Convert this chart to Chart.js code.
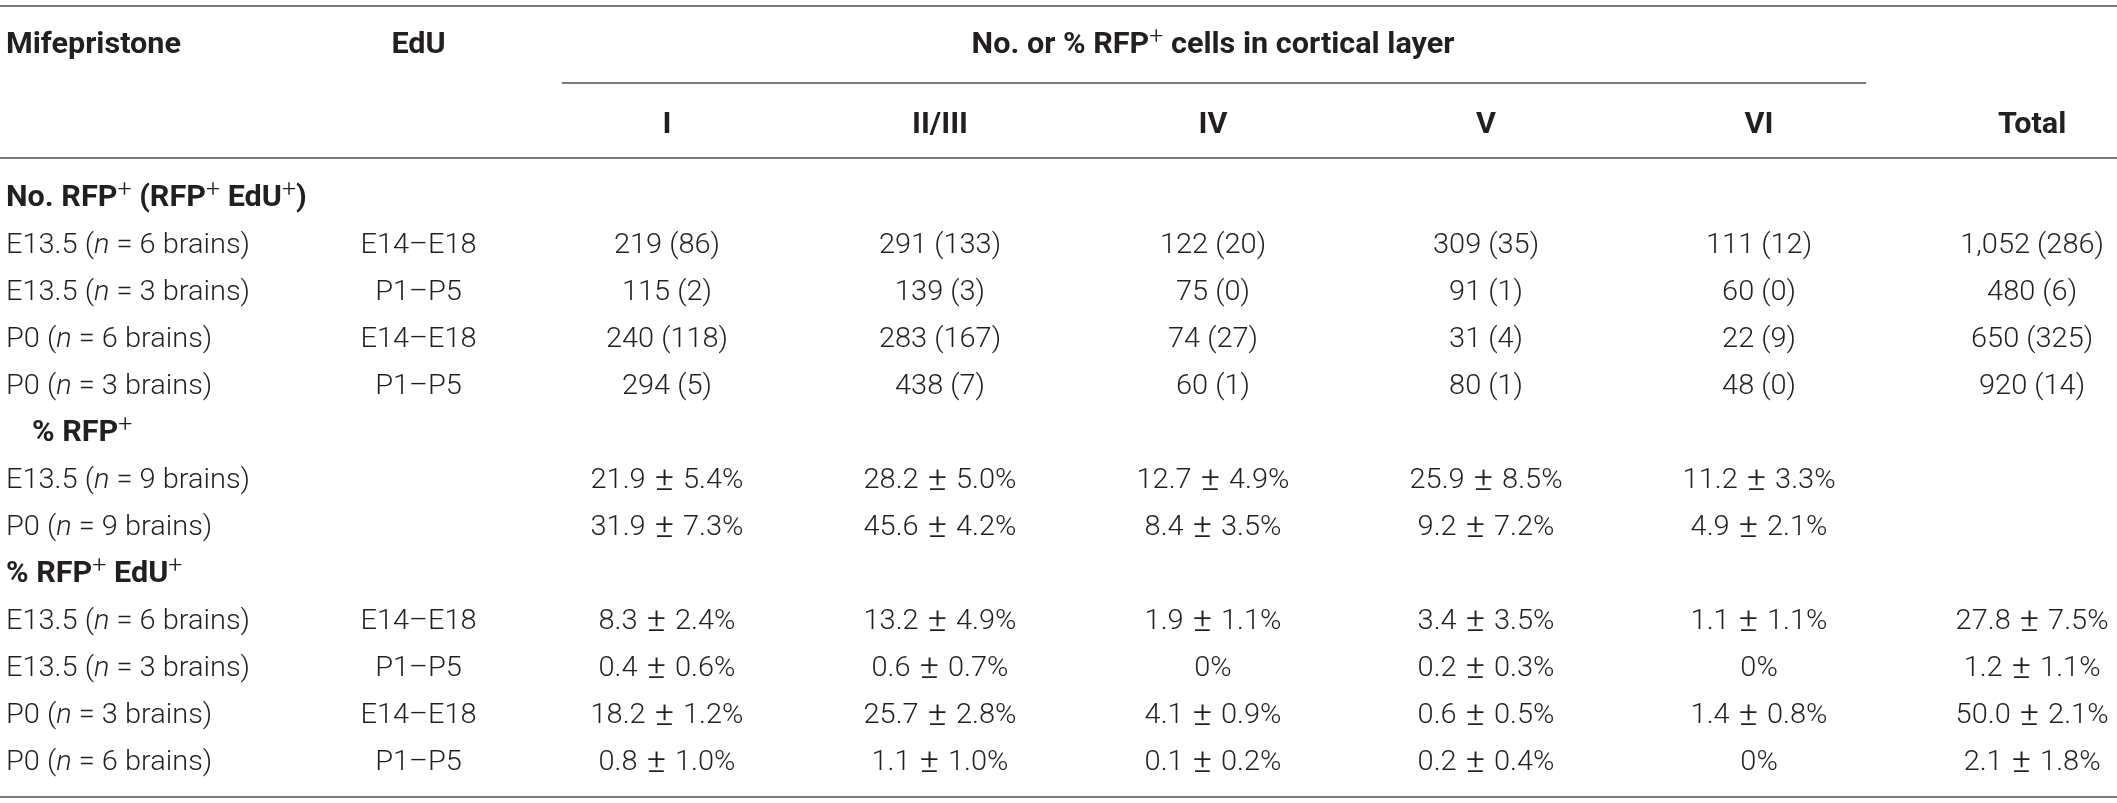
<!DOCTYPE html>
<html><head><meta charset="utf-8">
<script src="https://cdn.jsdelivr.net/npm/chart.js@4/dist/chart.umd.min.js"></script>
<style>html,body{margin:0;padding:0;background:#fff;overflow:hidden}#wrap{position:relative;width:2117px;height:803px}</style>
</head><body><div id="wrap"><canvas id="c"></canvas></div>
<script>
// ---------- DATA ----------
const headerLeft = "Mifepristone";
const headerEdu = "EdU";
const spannerTitle = "No. or % RFP^+ cells in cortical layer";
const columns = ["I", "II/III", "IV", "V", "VI", "Total"];

const countTitle = "No. RFP^+ (RFP^+ EdU^+)";
const countLabels = ["E13.5 (*n* = 6 brains)", "E13.5 (*n* = 3 brains)", "P0 (*n* = 6 brains)", "P0 (*n* = 3 brains)"];
const countEdu = ["E14–E18", "P1–P5", "E14–E18", "P1–P5"];
const countRFP = [
  [219, 291, 122, 309, 111, 1052],
  [115, 139, 75, 91, 60, 480],
  [240, 283, 74, 31, 22, 650],
  [294, 438, 60, 80, 48, 920]
];
const countRFPEdU = [
  [86, 133, 20, 35, 12, 286],
  [2, 3, 0, 1, 0, 6],
  [118, 167, 27, 4, 9, 325],
  [5, 7, 1, 1, 0, 14]
];

const pctTitle = "% RFP^+";
const pctLabels = ["E13.5 (*n* = 9 brains)", "P0 (*n* = 9 brains)"];
const pctMean = [
  [21.9, 28.2, 12.7, 25.9, 11.2, null],
  [31.9, 45.6, 8.4, 9.2, 4.9, null]
];
const pctSD = [
  [5.4, 5.0, 4.9, 8.5, 3.3, null],
  [7.3, 4.2, 3.5, 7.2, 2.1, null]
];

const eduTitle = "% RFP^+ EdU^+";
const eduLabels = ["E13.5 (*n* = 6 brains)", "E13.5 (*n* = 3 brains)", "P0 (*n* = 3 brains)", "P0 (*n* = 6 brains)"];
const eduEdu = ["E14–E18", "P1–P5", "E14–E18", "P1–P5"];
const eduMean = [
  [8.3, 13.2, 1.9, 3.4, 1.1, 27.8],
  [0.4, 0.6, 0, 0.2, 0, 1.2],
  [18.2, 25.7, 4.1, 0.6, 1.4, 50.0],
  [0.8, 1.1, 0.1, 0.2, 0, 2.1]
];
const eduSD = [
  [2.4, 4.9, 1.1, 3.5, 1.1, 7.5],
  [0.6, 0.7, null, 0.3, null, 1.1],
  [1.2, 2.8, 0.9, 0.5, 0.8, 2.1],
  [1.0, 1.0, 0.2, 0.4, null, 1.8]
];

// ---------- LAYOUT / STYLE ----------
const X_MIN = -0.443, X_MAX = 7.311;     // column units
const Y_MIN = -4.170, Y_MAX = 12.915;    // row units
const LABEL_X = -0.421, INDENT_X = -0.326, EDU_X = 1.09, FIRST_COL = 2;
const HEAD1_Y = -3.255, HEAD2_Y = -1.553;
const RULES = [
  {y: -4.04, x0: X_MIN, x1: X_MAX},
  {y: -2.40, x0: 1.615, x1: 6.392},
  {y: -0.81, x0: X_MIN, x1: X_MAX},
  {y: 12.79, x0: X_MIN, x1: X_MAX}
];
const TEXT_COLOR = "#231f20", RULE_COLOR = "#7a7a7a";
const LIGHT = {family: "Roboto", weight: 300, size: 27.2, sx: 1, pm: 0, pmSize: 1.25, supSize: 0.8, supW: 300};
const BOLD = {family: "Roboto", weight: 700, size: 29, sx: 1, pm: 0, pmSize: 1, supSize: 0.82, supW: 300};
// calibration samples (target rendered widths in px)
const FIT_LIGHT = ["E13.5 (*n* = 6 brains)", 244];
const FIT_BOLD = ["Mifepristone", 175];
const FIT_PM = ["21.9 ± 5.4%", 153];

// ---------- BUILD CELLS ----------
const fmtCount = (a, b) => a.toLocaleString("en-US") + " (" + b + ")";
const fmtPct = (m, s) => m === null ? null : (s === null ? m + "%" : m.toFixed(1) + " ± " + s.toFixed(1) + "%");

const cells = [];
function add(x, y, text, style, align) { if (text !== null) cells.push({x, y, text, style, align}); }

add(LABEL_X, HEAD1_Y, headerLeft, BOLD, "left");
add(EDU_X, HEAD1_Y, headerEdu, BOLD, "center");
add(FIRST_COL + 2, HEAD1_Y, spannerTitle, BOLD, "center");
columns.forEach((c, j) => add(FIRST_COL + j, HEAD2_Y, c, BOLD, "center"));

let row = 0;
add(LABEL_X, row, countTitle, BOLD, "left");
countLabels.forEach((lab, i) => {
  row++;
  add(LABEL_X, row, lab, LIGHT, "left");
  add(EDU_X, row, countEdu[i], LIGHT, "center");
  countRFP[i].forEach((v, j) => add(FIRST_COL + j, row, fmtCount(v, countRFPEdU[i][j]), LIGHT, "center"));
});
row++;
add(INDENT_X, row, pctTitle, BOLD, "left");
pctLabels.forEach((lab, i) => {
  row++;
  add(LABEL_X, row, lab, LIGHT, "left");
  pctMean[i].forEach((m, j) => add(FIRST_COL + j, row, fmtPct(m, pctSD[i][j]), LIGHT, "center"));
});
row++;
add(LABEL_X, row, eduTitle, BOLD, "left");
eduLabels.forEach((lab, i) => {
  row++;
  add(LABEL_X, row, lab, LIGHT, "left");
  add(EDU_X, row, eduEdu[i], LIGHT, "center");
  eduMean[i].forEach((m, j) => add(FIRST_COL + j, row, fmtPct(m, eduSD[i][j]), LIGHT, "center"));
});

// ---------- RICH TEXT ----------
function parse(text) {
  return text.split(/(\^\+|\*[^*]+\*| ± )/).filter(s => s).map(s => {
    if (s === "^+") return {t: "+", kind: "sup"};
    if (s === " ± ") return {t: "±", kind: "pm"};
    if (s[0] === "*") return {t: s.slice(1, -1), kind: "it"};
    return {t: s, kind: "n"};
  });
}
function fontFor(st, kind) {
  if (kind === "sup") return `${st.supW} ${(st.size * st.supSize).toFixed(2)}px ${st.family}`;
  if (kind === "pm") return `${st.weight} ${(st.size * st.pmSize).toFixed(2)}px ${st.family}`;
  if (kind === "it") return `italic ${st.weight} ${st.size}px ${st.family}`;
  return `${st.weight} ${st.size}px ${st.family}`;
}
function measureRich(ctx, text, st) {
  const segs = parse(text);
  let w = 0;
  segs.forEach(s => {
    ctx.font = fontFor(st, s.kind);
    s.w = ctx.measureText(s.t).width + (s.kind === "pm" ? 2 * st.pm : 0);
    w += s.w;
  });
  return {segs, w};
}
function drawRich(ctx, x, y, text, st, align) {
  const {segs, w} = measureRich(ctx, text, st);
  const capHalf = st.size * 0.355;
  ctx.save();
  ctx.translate(x, y + capHalf);
  ctx.scale(st.sx, 1);
  ctx.fillStyle = TEXT_COLOR;
  ctx.textBaseline = "alphabetic";
  ctx.textAlign = "left";
  let cx = align === "center" ? -w / 2 : 0;
  segs.forEach(s => {
    ctx.font = fontFor(st, s.kind);
    let dy = 0;
    if (s.kind === "sup") dy = -st.size * 0.33;
    if (s.kind === "pm") dy = (st.size * st.pmSize - st.size) * 0.30;
    const off = s.kind === "pm" ? st.pm : 0;
    ctx.fillText(s.t, cx + off, dy);
    cx += s.w;
  });
  ctx.restore();
}
let calibrated = false;
function calibrate(ctx) {
  if (calibrated) return;
  calibrated = true;
  LIGHT.sx = FIT_LIGHT[1] / measureRich(ctx, FIT_LIGHT[0], LIGHT).w;
  BOLD.sx = FIT_BOLD[1] / measureRich(ctx, FIT_BOLD[0], BOLD).w;
  const natural = measureRich(ctx, FIT_PM[0], LIGHT).w * LIGHT.sx;
  LIGHT.pm = Math.max(0, (FIT_PM[1] - natural) / 2 / LIGHT.sx);
}

const tablePlugin = {
  id: "tableText",
  afterDatasetsDraw(chart) {
    const ctx = chart.ctx, xs = chart.scales.x, ys = chart.scales.y;
    calibrate(ctx);
    ctx.save();
    ctx.strokeStyle = RULE_COLOR;
    ctx.lineWidth = 2;
    RULES.forEach(r => {
      const py = Math.round(ys.getPixelForValue(r.y));
      ctx.beginPath();
      ctx.moveTo(xs.getPixelForValue(r.x0), py);
      ctx.lineTo(xs.getPixelForValue(r.x1), py);
      ctx.stroke();
    });
    ctx.restore();
    const meta = chart.getDatasetMeta(0);
    meta.data.forEach((el, i) => {
      const c = chart.data.datasets[0].data[i];
      drawRich(ctx, el.x, el.y, c.text, c.style, c.align);
    });
  }
};

new Chart(document.getElementById("c"), {
  type: "scatter",
  data: { datasets: [{ data: cells, pointRadius: 0, pointHoverRadius: 0 }] },
  options: {
    responsive: true, maintainAspectRatio: false, animation: false,
    layout: { padding: 0 },
    plugins: { legend: { display: false }, tooltip: { enabled: false } },
    events: [],
    scales: {
      x: { type: "linear", min: X_MIN, max: X_MAX, display: false },
      y: { type: "linear", min: Y_MIN, max: Y_MAX, reverse: true, display: false }
    }
  },
  plugins: [tablePlugin]
});
</script>
</body></html>
